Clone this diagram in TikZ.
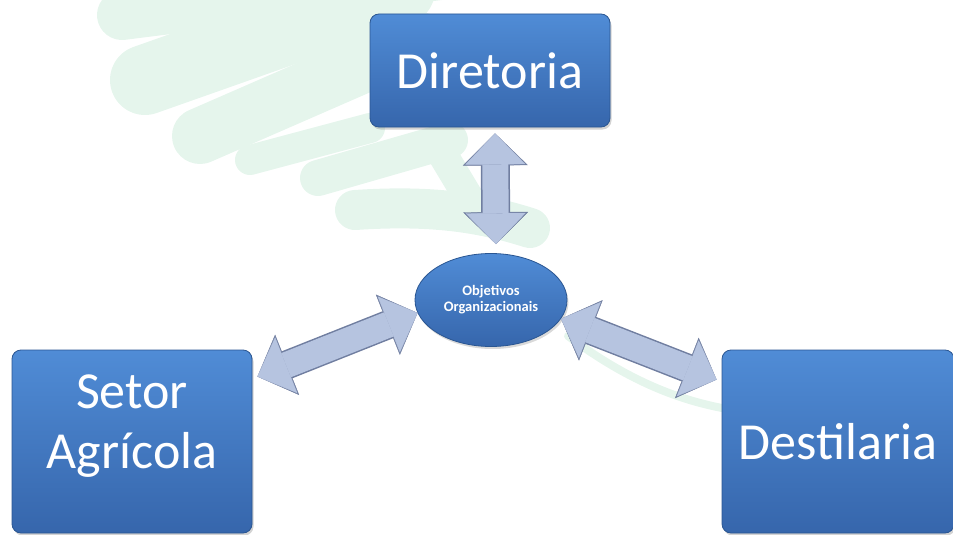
\documentclass[tikz,border=0pt]{standalone}
\usepackage{fontspec}
\setmainfont{Carlito}
\usetikzlibrary{arrows.meta,shadows,shapes.geometric}

\definecolor{boxtop}{RGB}{80,140,214}
\definecolor{boxbottom}{RGB}{54,102,172}
\definecolor{boxrim}{RGB}{42,86,146}
\definecolor{arrowbody}{RGB}{182,196,224}
\definecolor{arrowrim}{RGB}{112,126,160}
\definecolor{leaf}{RGB}{229,245,236}

\tikzset{
	sector/.style={rectangle, rounded corners=9pt, draw=boxrim, line width=0.8pt,
		top color=boxtop, bottom color=boxbottom, text=white, align=center,
		inner sep=0pt, font=\fontsize{52}{60}\selectfont,
		drop shadow={opacity=0.35, shadow xshift=1.5pt, shadow yshift=-2.5pt}},
	goal/.style={ellipse, draw=boxrim, line width=0.8pt,
		top color=boxtop, bottom color=boxbottom, text=white, align=center,
		inner sep=0pt, minimum width=152pt, minimum height=93pt,
		font=\bfseries\fontsize{14.5}{16}\selectfont,
		drop shadow={opacity=0.3, shadow xshift=1.5pt, shadow yshift=-2.5pt}},
	twoway/.style={line width=26pt, draw=arrowbody,
		{Triangle[length=31pt 0 0, width=60pt 0 0, line width=0.4pt 0 0]}-{Triangle[length=31pt 0 0, width=60pt 0 0, line width=0.4pt 0 0]},
		preaction={draw=arrowrim, line width=29pt,
			{Triangle[length=32pt 0 0, width=65pt 0 0, line width=0.4pt 0 0]}-{Triangle[length=32pt 0 0, width=65pt 0 0, line width=0.4pt 0 0]}}},
	leafstroke/.style={draw=leaf, line cap=round}
}

\begin{document}
\begin{tikzpicture}[x=1pt,y=-1pt]
	
	\useasboundingbox (0,0) rectangle (953,535);
	
	% faint leaf in the background
	\draw[leafstroke, line width=50pt] (122,15) -- (480,-30);
	\draw[leafstroke, line width=70pt] (145,80) -- (400,-10);
	\draw[leafstroke, line width=56pt] (200,136) -- (420,40);
	\draw[leafstroke, line width=30pt] (250,160) -- (370,128);
	\draw[leafstroke, line width=36pt] (318,178) -- (450,140);
	\draw[leafstroke, line width=30pt] (440,150) -- (470,200);
	\draw[leafstroke, line width=40pt] (355,210) .. controls (430,205) and (480,212) .. (530,228);
	\draw[leafstroke, line width=8pt] (568,336) .. controls (620,375) and (670,398) .. (722,408);
	
	\node[sector, minimum width=240pt, minimum height=113pt] (dir) at (490,70.5) {Diretoria};
	\node[sector, minimum width=240pt, minimum height=183pt, text depth=40pt] (setor) at (132,441.5) {Setor\\Agrícola};
	\node[sector, minimum width=232pt, minimum height=183pt] (destil) at (838,441.5) {Destilaria};
	
	\node[goal] (obj) at (491,300) {Objetivos\\Organizacionais};
	
	\draw[twoway, shorten <=6pt, shorten >=9pt] ([xshift=5pt]dir.south) -- ([xshift=5pt]obj.north);
	\draw[twoway] ([shift={(5,27)}]setor.north east) -- (obj.190);
	\draw[twoway] (obj.345) -- ([shift={(-5,30)}]destil.north west);
	
\end{tikzpicture}
\end{document}
